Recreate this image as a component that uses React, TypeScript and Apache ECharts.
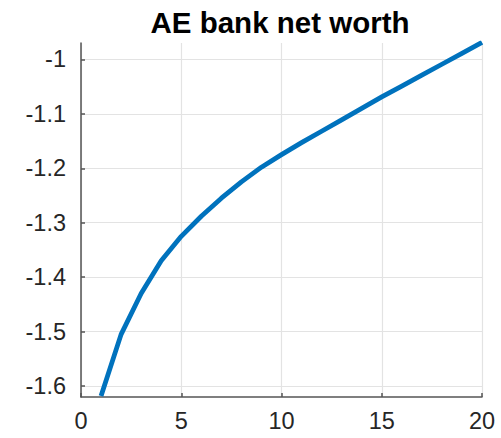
import React, { useEffect, useRef } from "react";
import * as echarts from "echarts";

// Periods after the shock
const periods: number[] = [1, 2, 3, 4, 5, 6, 7, 8, 9, 10, 11, 12, 13, 14, 15, 16, 17, 18, 19, 20];
// Response of AE bank net worth
const netWorth: number[] = [
  -1.618, -1.505, -1.430, -1.370, -1.325, -1.288, -1.255, -1.225, -1.198, -1.175,
  -1.153, -1.132, -1.111, -1.090, -1.069, -1.049, -1.029, -1.009, -0.989, -0.969,
];
const xTicks: number[] = [0, 5, 10, 15, 20];

const FONT = "'Liberation Sans', Arial, Helvetica, sans-serif";

export default function App() {
  const ref = useRef<HTMLDivElement>(null);

  useEffect(() => {
    if (!ref.current) return;
    const chart = echarts.init(ref.current, undefined, { renderer: "svg" });
    chart.setOption({
      animation: false,
      backgroundColor: "#ffffff",
      title: {
        text: "AE bank net worth",
        left: 275,
        top: 2,
        textAlign: "center",
        textStyle: { fontFamily: FONT, fontSize: 29.5, fontWeight: "bold", color: "#000000" },
      },
      grid: { left: 81, right: 19, top: 43, bottom: 41, containLabel: false },
      xAxis: {
        type: "value",
        min: xTicks[0],
        max: xTicks[xTicks.length - 1],
        interval: 5,
        axisLine: { show: true, onZero: false, lineStyle: { color: "#555555", width: 1.5 } },
        axisTick: { show: true, inside: true, length: 4, lineStyle: { color: "#555555", width: 1.5 } },
        axisLabel: { fontFamily: FONT, fontSize: 23.5, color: "#262626", margin: 12 },
        splitLine: { show: true, lineStyle: { color: "#e3e3e3", width: 1.2 } },
      },
      yAxis: {
        type: "value",
        min: -1.62,
        max: -0.97,
        axisLine: { show: true, lineStyle: { color: "#555555", width: 1.5 } },
        axisTick: { show: true, inside: true, length: 4, lineStyle: { color: "#555555", width: 1.5 } },
        axisLabel: {
          fontFamily: FONT,
          fontSize: 23.5,
          color: "#262626",
          margin: 15,
          showMinLabel: false,
          showMaxLabel: false,
        },
        splitLine: {
          show: true,
          showMinLine: false,
          showMaxLine: false,
          lineStyle: { color: "#e3e3e3", width: 1.2 },
        },
      },
      series: [
        {
          type: "line",
          data: periods.map((p, i) => [p, netWorth[i]]),
          showSymbol: false,
          clip: true,
          lineStyle: { color: "#0072BD", width: 4.8, cap: "butt", join: "round" },
        },
      ],
    });
    return () => chart.dispose();
  }, []);

  return (
    <div
      ref={ref}
      style={{ position: "fixed", left: 0, top: 0, width: 501, height: 438, background: "#fff" }}
    />
  );
}
